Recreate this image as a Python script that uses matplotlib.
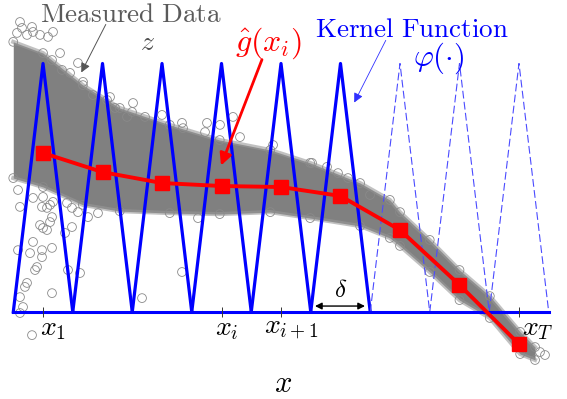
import numpy as np
import matplotlib
matplotlib.use("Agg")
import matplotlib.pyplot as plt

plt.rcParams['mathtext.fontset'] = 'cm'
plt.rcParams['font.family'] = 'DejaVu Serif'

# kernel centres (x_1 ... x_T) and the estimate g_hat at each centre
kernel_centers = np.array([1, 2, 3, 4, 5, 6, 7, 8, 9])
kernel_solid = np.array([True, True, True, True, True, True, False, False, False])
kernel_height = 1.0
delta = 1.0
g_hat = np.array([0.640, 0.563, 0.519, 0.507, 0.503, 0.467, 0.330, 0.109, -0.129])

# outline of the dense cloud of measured data
band_x = np.array([0.5, 1.0, 1.67, 2.29, 3.13, 3.97, 4.82, 5.49, 6.33, 6.83,
                   7.0, 7.5, 8.0, 8.51, 9.02, 9.27])
band_upper = np.array([1.087, 1.042, 0.913, 0.821, 0.753, 0.692, 0.652, 0.600, 0.519, 0.451,
                       0.402, 0.290, 0.169, 0.064, -0.080, -0.141])
band_lower = np.array([0.539, 0.503, 0.431, 0.406, 0.398, 0.394, 0.402, 0.378, 0.346, 0.298,
                       0.266, 0.161, 0.048, -0.024, -0.169, -0.193])

# scattered measurements outside the dense cloud
out_x = np.array([0.613, 0.647, 0.563, 0.815, 0.832, 0.731, 0.950, 1.084, 1.168, 1.286,
                  1.151, 1.319, 1.454, 1.588, 1.672, 1.840, 2.076, 2.210, 2.412, 2.126,
                  2.513, 3.353, 2.496, 2.714, 3.000, 3.336, 3.756, 3.723, 4.193, 4.311,
                  3.975, 4.866, 5.521, 5.773, 5.958, 6.126, 6.496,
                  0.580, 0.613, 0.832, 1.000, 1.118, 0.983, 1.067, 1.168, 1.403, 1.487,
                  1.588, 1.756, 1.924, 1.151, 1.118, 1.000, 0.950, 1.067, 1.487, 1.370,
                  0.832, 0.580, 0.782, 0.983, 1.151, 0.983, 0.899, 0.866, 1.420, 1.622,
                  0.731, 0.697, 1.151, 0.613, 0.664, 0.613, 0.815, 3.336, 2.664, 3.605,
                  9.353, 9.437])
out_y = np.array([1.167, 1.143, 1.123, 1.147, 1.127, 1.115, 1.115, 1.107, 1.127, 1.042,
                  1.014, 0.974, 0.962, 1.002, 0.926, 0.873, 0.853, 0.821, 0.785, 0.865,
                  0.841, 0.740, 0.805, 0.785, 0.793, 0.761, 0.761, 0.724, 0.785, 0.704,
                  0.753, 0.672, 0.600, 0.584, 0.559, 0.539, 0.471,
                  0.491, 0.423, 0.459, 0.463, 0.431, 0.423, 0.419, 0.443, 0.439, 0.419,
                  0.402, 0.382, 0.398, 0.382, 0.362, 0.338, 0.350, 0.330, 0.342, 0.318,
                  0.282, 0.249, 0.237, 0.249, 0.258, 0.221, 0.181, 0.169, 0.169, 0.157,
                  0.117, 0.101, 0.076, 0.060, 0.020, -0.004, -0.093, 0.161, 0.056, 0.378,
                  -0.161, -0.173])

tick_pos = [1, 4, 5, 9]
tick_labels = [r'$x_1$', r'$x_i$', r'$x_{i+1}$', r'$x_T$']
tick_label_x = [0.95, 3.89, 4.71, 9.05]

fig = plt.figure(figsize=(5.67, 3.99), dpi=100)
ax = fig.add_axes([0, 0, 1, 1])
ax.set_xlim(0.277, 9.807)
ax.set_ylim(-0.350, 1.2555)
ax.axis('off')

# measured data: dense cloud with a soft rim, plus the stray points
ax.fill_between(band_x, band_lower, band_upper, color='#808080', lw=0, zorder=1)
ax.plot(band_x, band_upper, color='#999999', lw=3, alpha=0.6, zorder=1)
ax.plot(band_x, band_lower, color='#999999', lw=3, alpha=0.6, zorder=1)
ax.scatter(band_x, band_upper, s=40, facecolors='none', edgecolors='#8a8a8a', lw=0.6, zorder=1)
ax.scatter(band_x, band_lower, s=40, facecolors='none', edgecolors='#8a8a8a', lw=0.6, zorder=1)
ax.scatter(out_x, out_y, s=40, facecolors='none', edgecolors='#8a8a8a', lw=0.6, zorder=1)

# kernel functions
for c, solid in zip(kernel_centers, kernel_solid):
    xs = [c - delta / 2, c, c + delta / 2]
    ys = [0, kernel_height, 0]
    if solid:
        ax.plot(xs, ys, color='#0000ff', lw=2.3, zorder=3)
    else:
        ax.plot(xs, ys, color='#4b4bff', lw=0.8, ls=(0, (7, 3)), zorder=3)
ax.plot([kernel_centers[0] - delta / 2, kernel_centers[-1] + delta / 2], [0, 0],
        color='#0000ff', lw=2.2, zorder=3)

# ticks on the baseline
ax.vlines(tick_pos, -0.02, 0.02, color='#333333', lw=0.7, zorder=4)
for lx, lab in zip(tick_label_x, tick_labels):
    ax.text(lx, -0.012, lab, fontsize=20, ha='left', va='top', color='black')

# estimate
ax.plot(kernel_centers, g_hat, color='#ff0000', lw=2.8, marker='s', ms=9.5, zorder=5)

# annotations
ax.text(0.95, 1.167, r'$\mathrm{Measured\ Data}$', fontsize=19.5, color='#5a5a5a',
        ha='left', va='baseline')
ax.text(2.75, 1.139, r'$z$', fontsize=20, color='#505050', ha='center', va='top')
ax.annotate('', xy=(1.622, 0.954), xytext=(2.076, 1.167),
            arrowprops=dict(arrowstyle='-|>', color='#555555', lw=0.7, mutation_scale=14))

ax.text(4.227, 1.082, r'$\hat{g}(x_i)$', fontsize=23, color='#ff0000', ha='left', va='center')
ax.annotate('', xy=(3.975, 0.579), xytext=(4.697, 1.026),
            arrowprops=dict(arrowstyle='-|>', color='#ff0000', lw=2.0, mutation_scale=18))

ax.text(5.57, 1.107, r'$\mathrm{Kernel\ Function}$', fontsize=19.5, color='#0000ff',
        ha='left', va='baseline')
ax.text(7.218, 1.022, r'$\varphi(\cdot)$', fontsize=22, color='#0000ff', ha='left', va='center')
ax.annotate('', xy=(6.210, 0.833), xytext=(6.782, 1.103),
            arrowprops=dict(arrowstyle='-|>', color='#3030ff', lw=0.6, mutation_scale=14))

ax.annotate('', xy=(5.571, 0.024), xytext=(6.412, 0.024),
            arrowprops=dict(arrowstyle='<|-|>', color='black', lw=1.0, mutation_scale=10,
                            shrinkA=0, shrinkB=0))
ax.text(6.008, 0.085, r'$\delta$', fontsize=18, color='black', ha='center', va='center')

ax.text(5.034, -0.286, r'$x$', fontsize=22, color='black', ha='center', va='center')

fig.savefig('out.png', dpi=100)
